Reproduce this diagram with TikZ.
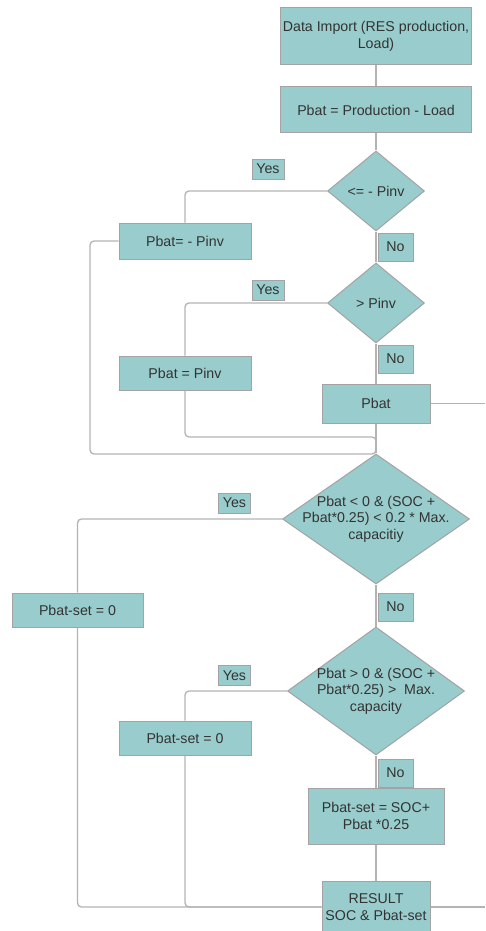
\documentclass[tikz,border=0pt]{standalone}
\usepackage{fontspec}
\setmainfont{Liberation Sans}
\usepackage{xcolor}
\usepackage{tikz}
\usetikzlibrary{shapes.geometric}
\definecolor{boxfill}{HTML}{99CCCC}
\definecolor{boxline}{HTML}{A3A3A3}
\definecolor{wirecol}{HTML}{B3B3B3}
\definecolor{ink}{HTML}{333333}

\begin{document}
\begin{tikzpicture}[x=1pt,y=-1pt,
every node/.style={text=ink,font=\fontsize{14.2}{16.5}\selectfont},
blk/.style={rectangle,fill=boxfill,draw=boxline,line width=1pt,inner sep=0pt,align=center},
dec/.style={diamond,fill=boxfill,draw=boxline,line width=1pt,inner sep=0pt},
yestag/.style={rectangle,fill=boxfill,draw=boxline,line width=0.6pt,inner sep=0pt,minimum width=32pt,minimum height=20pt},
notag/.style={yestag,minimum width=35pt,minimum height=28pt},
wire/.style={draw=wirecol,line width=1.3pt,rounded corners=4pt}]
\useasboundingbox (0,0) rectangle (485,931);
\node[blk,minimum width=191pt,minimum height=57pt] (imp) at (376,36.5) {Data Import (RES production,\\Load)};
\node[blk,minimum width=191pt,minimum height=46pt] (diff) at (376,110) {Pbat = Production - Load};
\node[dec,minimum width=97pt,minimum height=80pt] (d1) at (376,191) {<= - Pinv};
\node[blk,minimum width=132pt,minimum height=36pt] (neg) at (185,241) {Pbat= - Pinv};
\node[dec,minimum width=97pt,minimum height=80pt] (d2) at (376,303) {> Pinv};
\node[blk,minimum width=132pt,minimum height=34pt] (pos) at (185,373) {Pbat = Pinv};
\node[blk,minimum width=108pt,minimum height=39pt] (pb) at (376,403.5) {Pbat};
\node[dec,minimum width=187pt,minimum height=130pt,
label={[align=center]center:{Pbat < 0 \& (SOC +\\Pbat*0.25) < 0.2 * Max.\\capacitiy}}] (d3) at (376,519) {};
\node[blk,minimum width=131pt,minimum height=34pt] (set1) at (77.5,610) {Pbat-set = 0};
\node[dec,minimum width=177pt,minimum height=128pt,
label={[align=center]center:{Pbat > 0 \& (SOC +\\Pbat*0.25) >\ \ Max.\\capacity}}] (d4) at (376,691) {};
\node[blk,minimum width=132pt,minimum height=34pt] (set2) at (185,738) {Pbat-set = 0};
\node[blk,minimum width=136pt,minimum height=56pt] (calc) at (376,816) {Pbat-set = SOC+\\Pbat *0.25};
\node[blk,minimum width=108pt,minimum height=52pt] (res) at (376,907) {RESULT\\SOC \& Pbat-set};
\foreach \nm/\px/\py in {y1/268/169,y2/268/290,y3/234.5/503,y4/234.5/675.5}
\node[yestag] (\nm) at (\px,\py) {Yes};
\foreach \nm/\py in {n1/247,n2/359,n3/607,n4/773}
\node[notag] (\nm) at (395.5,\py) {No};
\coordinate (outA) at (485,403.5);
\coordinate (outB) at (485,907);
\coordinate (jA) at (90,454);
\coordinate (jB) at (376,445);
\coordinate (jC) at (376,437);
\draw[wire] (imp) -- (diff);
\draw[wire] (diff) -- (d1);
\draw[wire] (d1) -- (d2);
\draw[wire] (d2) -- (pb);
\draw[wire] (pb) -- (d3);
\draw[wire] (d3) -- (d4);
\draw[wire] (d4) -- (calc);
\draw[wire] (calc) -- (res);
\draw[wire] (d1.west) -| (neg.north);
\draw[wire] (d2.west) -| (pos.north);
\draw[wire] (pb.east) -- (outA);
\draw[wire] (neg.west) -| (jA) -| (jB);
\draw[wire] (pos.south) |- (jC) -- (jB);
\draw[wire] (d3.west) -| (set1.north);
\draw[wire] (d4.west) -| (set2.north);
\draw[wire] (set1.south) |- (res.west);
\draw[wire] (set2.south) |- (res.west);
\draw[wire] (res.east) -- (outB);
\end{tikzpicture}
\end{document}
